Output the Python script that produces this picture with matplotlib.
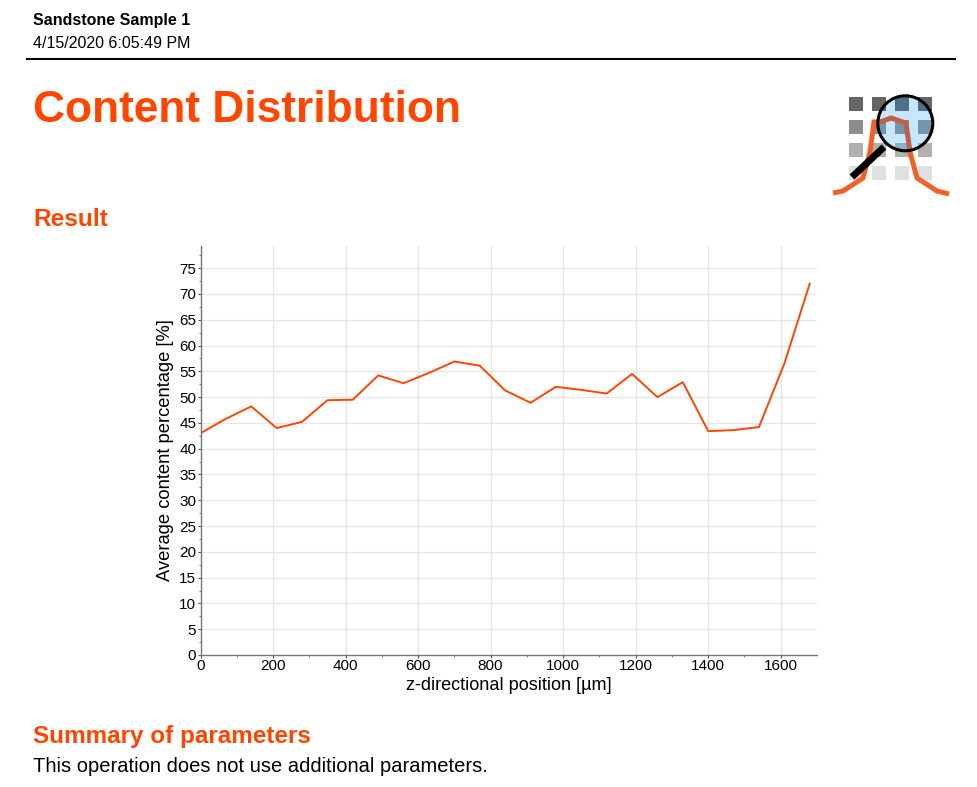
import matplotlib
matplotlib.use("Agg")
import matplotlib.pyplot as plt
from matplotlib.patches import Circle, Rectangle

plt.rcParams['font.family'] = ['Liberation Sans', 'DejaVu Sans']

# data
positions = [0, 70, 140, 210, 280, 350, 420, 490, 560, 630, 700, 770, 840,
             910, 980, 1050, 1120, 1190, 1260, 1330, 1400, 1470, 1540, 1610, 1680]
content = [43.0, 45.8, 48.2, 44.0, 45.2, 49.4, 49.5, 54.2, 52.7, 54.7, 56.9, 56.1, 51.3,
           48.9, 52.0, 51.4, 50.7, 54.5, 50.0, 52.9, 43.4, 43.6, 44.2, 56.5, 72.0]
x_ticks = [0, 200, 400, 600, 800, 1000, 1200, 1400, 1600]
y_ticks = [0, 5, 10, 15, 20, 25, 30, 35, 40, 45, 50, 55, 60, 65, 70, 75]

ORANGE = '#ff4500'
W, H = 977, 787

fig = plt.figure(figsize=(W / 100, H / 100), dpi=100)

# page overlay in pixel coordinates
page = fig.add_axes([0, 0, 1, 1])
page.set_xlim(0, W)
page.set_ylim(H, 0)
page.axis('off')

page.text(33, 20, 'Sandstone Sample 1', fontsize=11.55, fontweight='bold', va='center', color='black')
page.text(33, 43, '4/15/2020 6:05:49 PM', fontsize=11.55, va='center', color='black')
page.plot([27, 955], [59, 59], color='black', lw=1.5)
page.text(33, 111, 'Content Distribution', fontsize=31.9, fontweight='bold', va='center', color=ORANGE)
page.text(33, 219, 'Result', fontsize=17.6, fontweight='bold', va='center', color=ORANGE)
page.text(33, 736, 'Summary of parameters', fontsize=17.45, fontweight='bold', va='center', color=ORANGE)
page.text(33, 766, 'This operation does not use additional parameters.', fontsize=14.5, va='center', color='black')

# icon at the top right
icon_cols = [849, 872, 895, 918]
icon_rows = [97, 120, 143, 166]
icon_greys = ['#666666', '#8c8c8c', '#b0b0b0', '#e0e0e0']
lens_tints = ['#4f708c', '#7595ad', '#8fb0c8', '#c8e6fc']
curve_x = [833, 843, 863, 870, 874, 880, 891, 906, 910, 917, 937, 949]
curve_y = [193, 191, 178, 152, 122, 122, 118, 123, 152, 178, 191, 194]

for row, grey in zip(icon_rows, icon_greys):
    for col in icon_cols:
        page.add_patch(Rectangle((col, row), 14, 14, color=grey, lw=0, zorder=2))
page.plot(curve_x, curve_y, color='#f0602a', lw=3.6, solid_joinstyle='miter',
          solid_capstyle='butt', zorder=3)
page.plot([852, 884], [177, 147], color='black', lw=5, solid_capstyle='butt', zorder=4)

# inside the lens everything is drawn again with a blue tint
lens = Circle((905.3, 123.3), 27, facecolor='#c8e6fc', edgecolor='none', zorder=5)
page.add_patch(lens)
for row, tint in zip(icon_rows, lens_tints):
    for col in icon_cols:
        square = Rectangle((col, row), 14, 14, color=tint, lw=0, zorder=5.1)
        page.add_patch(square)
        square.set_clip_path(lens)
lens_curve, = page.plot(curve_x, curve_y, color='#c0604a', lw=3.6, solid_joinstyle='miter', zorder=5.2)
lens_curve.set_clip_path(lens)
page.add_patch(Circle((905.3, 123.3), 27.5, facecolor='none', edgecolor='black', lw=2.2, zorder=6))

# chart
ax = fig.add_axes([200.5 / W, 1 - 655 / H, (817 - 200.5) / W, (655 - 246) / H])
ax.plot(positions, content, color=ORANGE, lw=1.4, zorder=3)
ax.set_xlim(0, 1700)
ax.set_ylim(0, 79.3)
ax.set_xticks(x_ticks)
ax.set_yticks(y_ticks)
ax.set_xticks(range(100, 1700, 200), minor=True)
ax.set_yticks([v + 2.5 for v in y_ticks], minor=True)
ax.grid(True, which='major', color='#e6e6e6', lw=0.9)
ax.set_axisbelow(True)
for side in ['top', 'right']:
    ax.spines[side].set_visible(False)
for side in ['left', 'bottom']:
    ax.spines[side].set_color('#777777')
    ax.spines[side].set_linewidth(1)
ax.tick_params(axis='both', which='major', direction='out', length=2, width=0.8, color='#555555',
               labelsize=11, pad=1, labelcolor='black')
ax.tick_params(axis='both', which='minor', direction='out', length=1.5, width=0.7, color='#777777')
ax.set_xlabel('z-directional position [µm]', fontsize=13.1, labelpad=3)
ax.set_ylabel('Average content percentage [%]', fontsize=13.2, labelpad=4)

fig.savefig('out.png', dpi=100)
